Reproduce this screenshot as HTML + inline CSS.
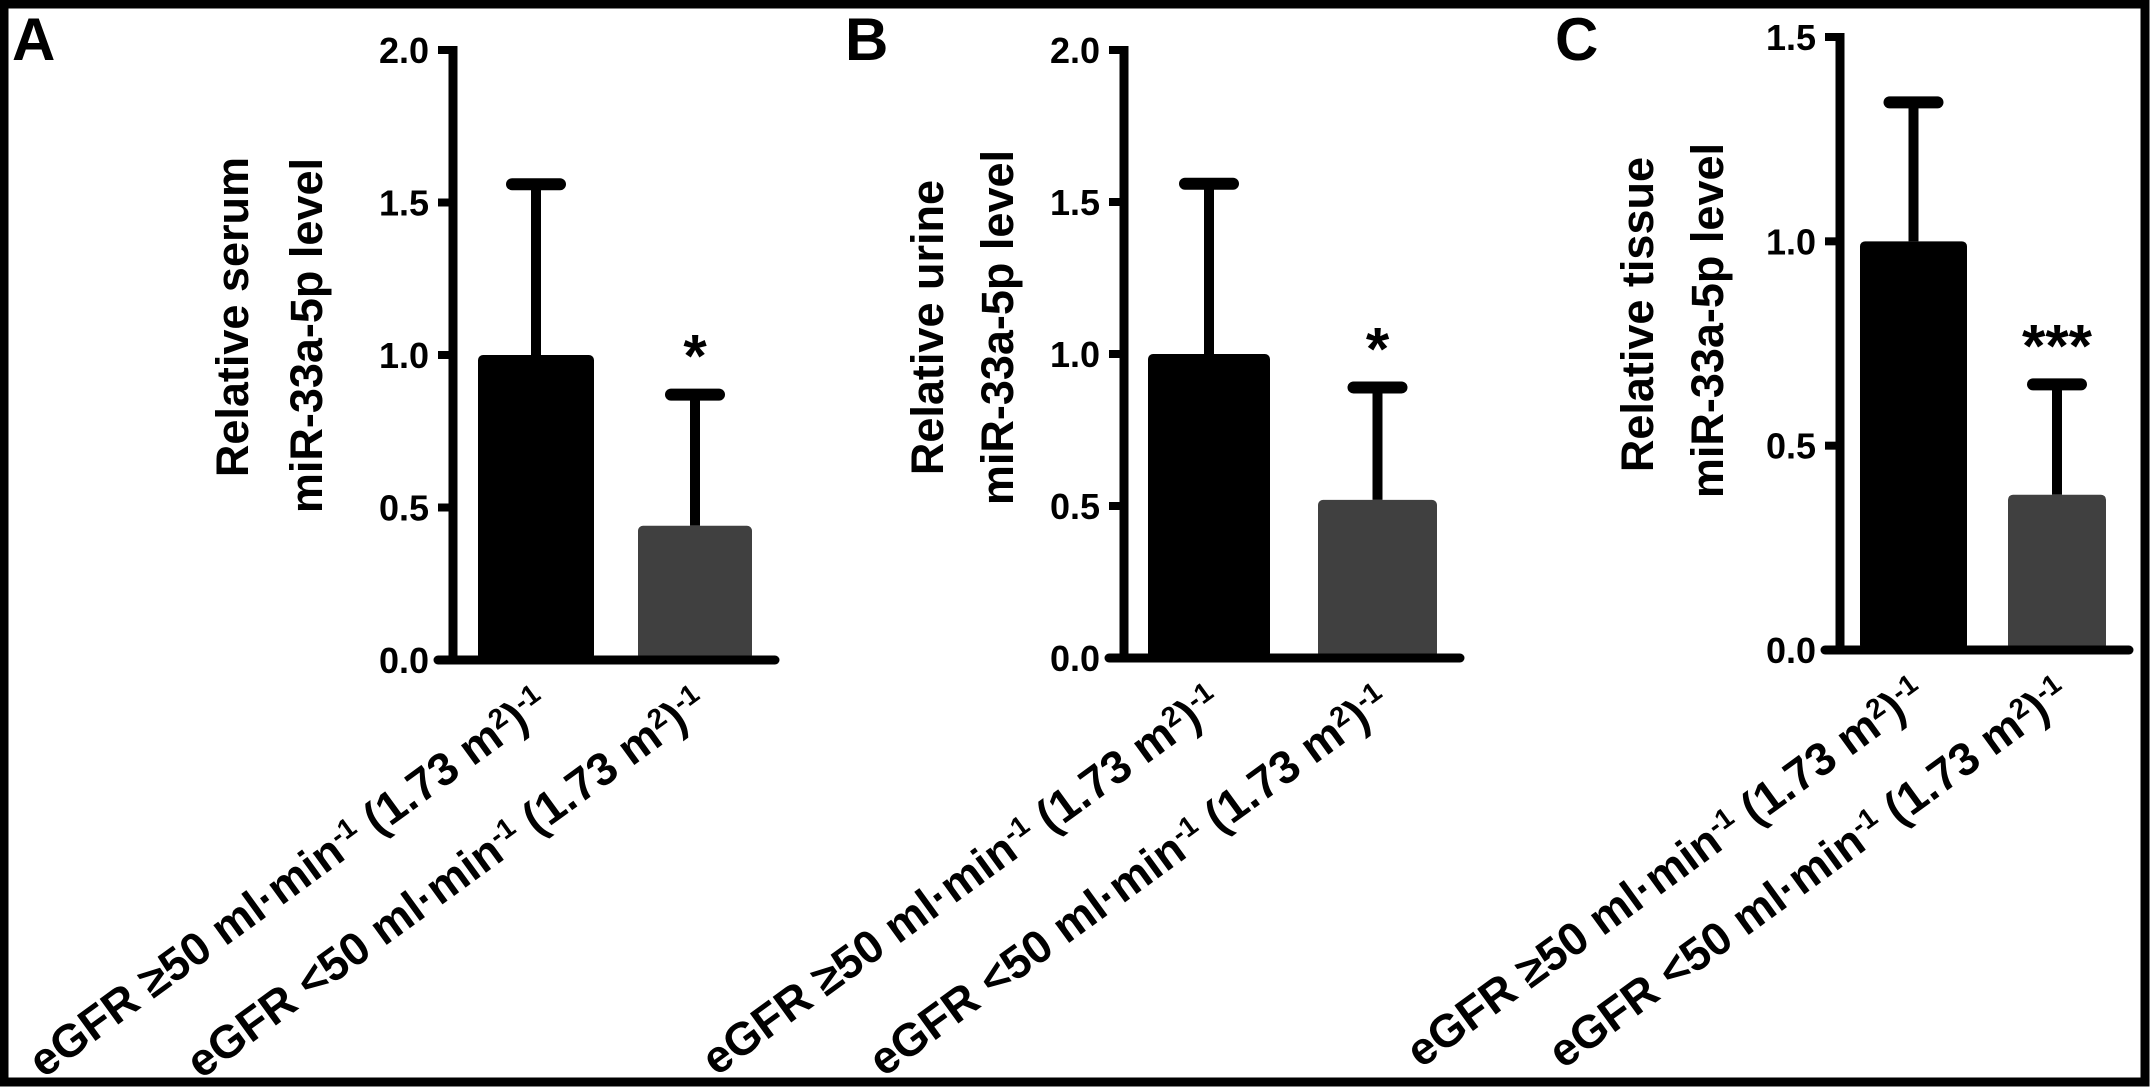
<!DOCTYPE html>
<html><head><meta charset="utf-8"><style>
html,body{margin:0;padding:0;background:#fff;}
svg{display:block;font-family:"Liberation Sans",Arial,sans-serif;}
</style></head><body>
<svg id="fig" width="2150" height="1088" viewBox="0 0 2150 1088" xmlns="http://www.w3.org/2000/svg">
<rect x="4" y="4" width="2141" height="1078" fill="#fff" stroke="#000" stroke-width="9"/>
</svg>
<script>
const categories = ["eGFR \u226550 ml\u00b7min", "eGFR <50 ml\u00b7min"];
const panelLetters = ["A", "B", "C"];
const panelTitles = ["Relative serum", "Relative urine", "Relative tissue"];
const serumMeans = [1.0, 0.44];
const serumErr = [1.56, 0.87];
const urineMeans = [1.0, 0.52];
const urineErr = [1.56, 0.89];
const tissueMeans = [1.0, 0.38];
const tissueErr = [1.34, 0.65];
const yMaxes = [2.0, 2.0, 1.5];
const tickLabelsAB = ["0.0", "0.5", "1.0", "1.5", "2.0"];
const tickLabelsC = ["0.0", "0.5", "1.0", "1.5"];
const sigMarks = ["*", "*", "***"];

const NS = "http://www.w3.org/2000/svg";
const svg = document.getElementById("fig");
function mk(tag, attrs, parent) {
  const e = document.createElementNS(NS, tag);
  for (const k in attrs) e.setAttribute(k, attrs[k]);
  (parent || svg).appendChild(e);
  return e;
}
const layouts = [
  {ax:453, y0:660, yTop:50, bars:[[478,594],[638,752]], xEnd:775, letterX:12, titleX:[248,322], titleTop:[157,158]},
  {ax:1124, y0:658, yTop:50, bars:[[1148,1270],[1318,1437]], xEnd:1460, letterX:845, titleX:[943,1013], titleTop:[180,150]},
  {ax:1840, y0:650, yTop:37, bars:[[1860,1967],[2008,2106]], xEnd:2129, letterX:1555, titleX:[1653,1723], titleTop:[157,143]}
];
const meansAll = [serumMeans, urineMeans, tissueMeans];
const errAll = [serumErr, urineErr, tissueErr];
const ticksAll = [tickLabelsAB, tickLabelsAB, tickLabelsC];
const colors = ["#000000", "#404040"];

layouts.forEach((L, p) => {
  const g = mk("g", {});
  
  
  const yMax = yMaxes[p];
  const y = v => L.y0 - (v / yMax) * (L.y0 - L.yTop);
  const lt = mk("text", {x:L.letterX, y:60, "font-size":60, "font-weight":"bold"}, g);
  lt.textContent = panelLetters[p];
  
  
  const tt = mk("text", {transform:`translate(${L.titleX[0]},${L.titleTop[0]}) rotate(-90)`, "text-anchor":"end", "font-size":45, "font-weight":"bold"}, g);
  tt.textContent = panelTitles[p];
  
  
  const tt2 = mk("text", {transform:`translate(${L.titleX[1]},${L.titleTop[1]}) rotate(-90)`, "text-anchor":"end", "font-size":45, "font-weight":"bold"}, g);
  tt2.textContent = "miR-33a-5p level";
  
  
  meansAll[p].forEach((m, i) => {
    const [x1, x2] = L.bars[i];
    const cx = (x1 + x2) / 2;
    const eb = mk("line", {x1:cx, x2:cx, y1:y(m), y2:y(errAll[p][i]), stroke:"#000", "stroke-width":10}, g);
    
    
    const cap = mk("line", {x1:cx-24, x2:cx+24, y1:y(errAll[p][i]), y2:y(errAll[p][i]), stroke:"#000", "stroke-width":12, "stroke-linecap":"round"}, g);
    
    
    const r = mk("rect", {x:x1, y:y(m), width:x2-x1, height:L.y0-y(m), fill:colors[i], rx:5}, g);
    
    
    const lx = cx + 15, ly = L.y0 + 50;
    const xl = mk("text", {transform:`translate(${lx},${ly}) rotate(-36)`, "text-anchor":"end", "font-size":46, "font-weight":"bold"}, g);
    
    
    const parts = [[categories[i], 0], ["-1", 1], [" (1.73 m", 0], ["2", 1], [")", 0], ["-1", 1]];
    parts.forEach(([t, sup]) => {
      const ts = mk("tspan", sup ? {"font-size":28, "baseline-shift":"super"} : {}, xl);
      ts.textContent = t;
    });
  });
  const gi = 1, gx = (L.bars[gi][0] + L.bars[gi][1]) / 2;
  const st = mk("text", {x:gx, y:y(errAll[p][gi]) - 18, "text-anchor":"middle", "font-size":60, "font-weight":"bold"}, g);
  st.textContent = sigMarks[p];
  
  
  const ya = mk("line", {x1:L.ax, x2:L.ax, y1:L.yTop-4, y2:L.y0+4, stroke:"#000", "stroke-width":9}, g);
  
  
  const xa = mk("line", {x1:L.ax-15, x2:L.xEnd, y1:L.y0, y2:L.y0, stroke:"#000", "stroke-width":9, "stroke-linecap":"round"}, g);
  
  
  ticksAll[p].forEach(lbl => {
    const v = parseFloat(lbl);
    const tk = mk("line", {x1:L.ax-15, x2:L.ax, y1:y(v), y2:y(v), stroke:"#000", "stroke-width":8}, g);
    
    
    const tl = mk("text", {x:L.ax-24, y:y(v)+13, "text-anchor":"end", "font-size":36, "font-weight":"bold"}, g);
    tl.textContent = lbl;
    
    
  });
});
</script>
</body></html>
